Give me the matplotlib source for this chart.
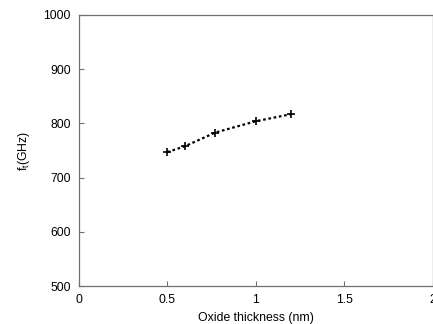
import matplotlib
matplotlib.use('Agg')
import matplotlib.pyplot as plt

# cutoff frequency vs gate oxide thickness
thickness = [0.5, 0.6, 0.77, 1.0, 1.2]
ft_ghz = [747, 758, 783, 804, 817]

plt.rcParams['font.family'] = ['Liberation Sans', 'DejaVu Sans']

fig = plt.figure(figsize=(4.33, 3.24), dpi=100)
ax = fig.add_axes([0.1824, 0.117, 0.817, 0.837])

ax.plot(thickness, ft_ghz, color='black', linestyle=(0, (1.2, 1.2)), linewidth=1.6,
        marker='+', markersize=6, markeredgewidth=1.2)

ax.set_xlim(0, 2)
ax.set_ylim(500, 1000)
ax.set_xticks([0, 0.5, 1, 1.5, 2])
ax.set_xticklabels(['0', '0.5', '1', '1.5', '2'])
ax.set_yticks([500, 600, 700, 800, 900, 1000])

for s in ax.spines.values():
    s.set_color('#707070')
    s.set_linewidth(0.9)
ax.tick_params(direction='in', length=3.5, width=0.8, color='#707070',
               labelsize=8.8, pad=6)

ax.set_xlabel('Oxide thickness (nm)', fontsize=8.8, labelpad=4)
ax.set_ylabel('f$_\\mathregular{t}$(GHz)', fontsize=8.8, labelpad=8)

fig.savefig('out.png', dpi=100)
